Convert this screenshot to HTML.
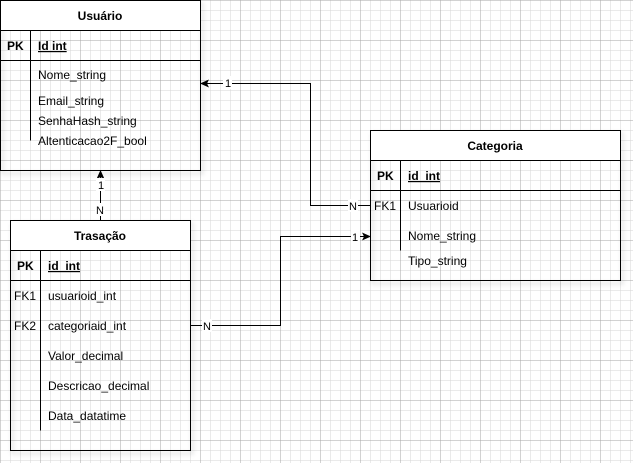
<!DOCTYPE html>
<html><head><style>
body{margin:0;background:#fff;}
svg{display:block;font-family:"Liberation Sans",Arial,sans-serif;font-size:12px;}
</style></head><body>
<svg width="633" height="463" xmlns="http://www.w3.org/2000/svg">
<defs>
<pattern id="minor" width="10" height="10" patternUnits="userSpaceOnUse"><path d="M10 0V10M0 10H10" fill="none" stroke="#d6d6d6" stroke-width="1"/></pattern>
<pattern id="major" width="40" height="40" patternUnits="userSpaceOnUse"><path d="M40 0V40M0 40H40" fill="none" stroke="#a6a6a6" stroke-width="1"/></pattern>
<filter id="sh" x="-10%" y="-10%" width="130%" height="130%"><feDropShadow dx="2" dy="3" stdDeviation="2" flood-opacity="0.25"/></filter>
</defs>
<g transform="translate(0.5,0.5)">
<rect x="-1" y="-1" width="640" height="470" fill="url(#minor)"/>
<rect x="-1" y="-1" width="640" height="470" fill="url(#major)"/>
</g>
<g stroke="#000" fill="none" stroke-width="1" transform="translate(0.5,0.5)">
<path d="M370 205H310V83H206"/>
<path d="M100 220V176"/>
<path d="M190 325H280V236H364"/>
</g>
<g fill="#000">
<path d="M200 83.5l9-4-2 4 2 4z"/>
<path d="M100.5 170l-4 9 4-2 4 2z"/>
<path d="M371 236.5l-9-4 2 4-2 4z"/>
</g>
<g font-size="11" text-anchor="middle">
<rect x="223" y="76" width="9" height="13" fill="#fff"/><text x="228" y="87">1</text>
<rect x="348" y="199" width="10" height="13" fill="#fff"/><text x="353" y="210">N</text>
<rect x="96" y="178" width="9" height="13" fill="#fff"/><text x="101" y="189">1</text>
<rect x="95" y="203" width="10" height="13" fill="#fff"/><text x="100" y="214">N</text>
<rect x="202" y="319" width="10" height="13" fill="#fff"/><text x="207" y="330">N</text>
<rect x="351" y="230" width="9" height="13" fill="#fff"/><text x="355" y="241">1</text>
</g>
<!-- Usuario -->
<g transform="translate(0.5,0.5)" stroke="#000">
<rect x="0" y="0" width="200" height="170" fill="none" filter="url(#sh)"/>
<rect x="0" y="0" width="200" height="30" fill="#fff"/>
<rect x="0" y="0" width="200" height="170" fill="none"/>
<path d="M0 30H200M0 60H200M30 30V140"/>
</g>
<text x="100" y="20" text-anchor="middle" font-weight="bold">Usuário</text>
<text x="7" y="50" font-weight="bold">PK</text>
<text x="38" y="50" font-weight="bold" text-decoration="underline">Id int</text>
<text x="38" y="79">Nome_string</text>
<text x="38" y="105">Email_string</text>
<text x="38" y="125">SenhaHash_string</text>
<text x="38" y="145">Altenticacao2F_bool</text>
<!-- Trasacao -->
<g transform="translate(0.5,0.5)" stroke="#000">
<rect x="10" y="220" width="180" height="230" fill="none" filter="url(#sh)"/>
<rect x="10" y="220" width="180" height="30" fill="#fff"/>
<rect x="10" y="220" width="180" height="230" fill="none"/>
<path d="M10 250H190M10 280H190M40 250V430"/>
</g>
<text x="100" y="240" text-anchor="middle" font-weight="bold">Trasação</text>
<text x="17" y="270" font-weight="bold">PK</text>
<text x="48" y="270" font-weight="bold" text-decoration="underline">id_int</text>
<text x="14" y="300">FK1</text><text x="48" y="300">usuarioid_int</text>
<text x="14" y="330">FK2</text><text x="48" y="330">categoriaid_int</text>
<text x="48" y="360">Valor_decimal</text>
<text x="48" y="390">Descricao_decimal</text>
<text x="48" y="420">Data_datatime</text>
<!-- Categoria -->
<g transform="translate(0.5,0.5)" stroke="#000">
<rect x="370" y="130" width="250" height="150" fill="none" filter="url(#sh)"/>
<rect x="370" y="130" width="250" height="30" fill="#fff"/>
<rect x="370" y="130" width="250" height="150" fill="none"/>
<path d="M370 160H620M370 190H620M400 160V250"/>
</g>
<text x="495" y="150" text-anchor="middle" font-weight="bold">Categoria</text>
<text x="377" y="180" font-weight="bold">PK</text>
<text x="408" y="180" font-weight="bold" text-decoration="underline">id_int</text>
<text x="374" y="210">FK1</text><text x="408" y="210">Usuarioid</text>
<text x="408" y="240">Nome_string</text>
<text x="408" y="265">Tipo_string</text>
</svg>
</body></html>
